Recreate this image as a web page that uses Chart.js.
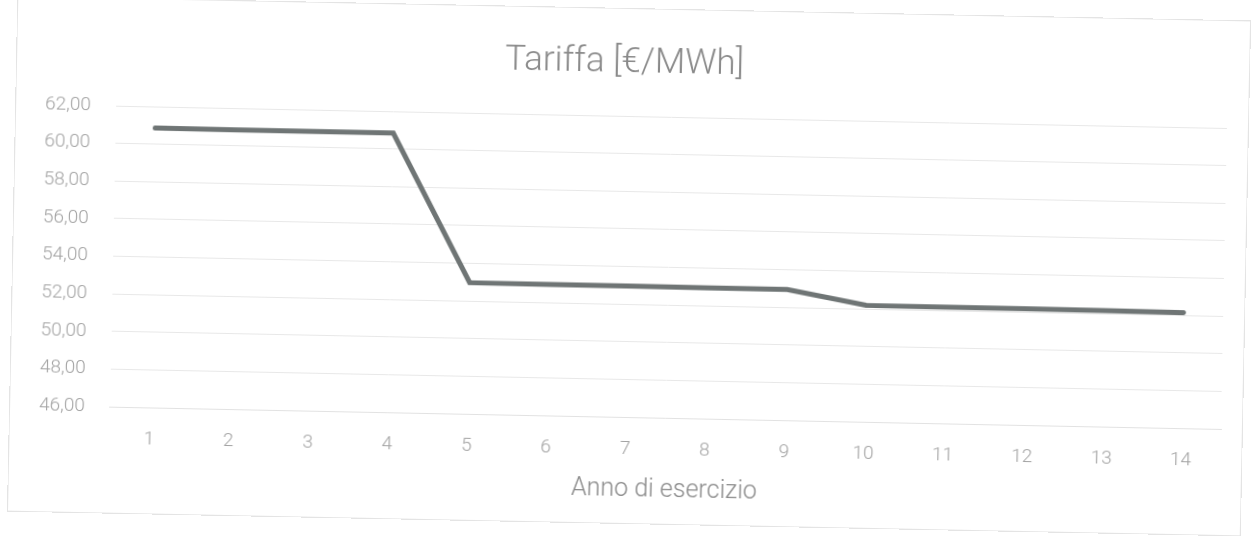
<!DOCTYPE html>
<html>
<head>
<meta charset="utf-8">
<script src="https://cdn.jsdelivr.net/npm/chart.js@4/dist/chart.umd.min.js"></script>
<style>
  html, body { margin: 0; padding: 0; background: #fff; overflow: hidden; }
  #wrap {
    position: relative; width: 1254px; height: 536px;
    /* the scanned chart is slightly tilted */
    transform: rotate(1.15deg); transform-origin: 627px 268px;
  }
  #frame { position: absolute; left: 12px; top: 8px; width: 1232px; height: 514px; border: 1px solid #e4e4e4; }
</style>
</head>
<body>
<div id="wrap">
  <div id="frame"></div>
  <canvas id="myChart" width="1254" height="536"></canvas>
</div>
<script>
// anno di esercizio
const anni = ['1', '2', '3', '4', '5', '6', '7', '8', '9', '10', '11', '12', '13', '14'];
// tariffa €/MWh
const tariffa = [60.86, 60.85, 60.85, 60.84, 52.98, 52.97, 52.97, 52.96, 52.96, 52.20, 52.19, 52.18, 52.17, 52.15];
const yMin = 46;
const yMax = 62;
const yStep = 2;

const tickColor = '#a3a3a3';
const font = 'Roboto, "Open Sans", sans-serif';

const data = {
    labels: anni,
    datasets: [{
        label: 'Tariffa',
        data: tariffa,
        borderColor: '#6f7575',
        borderWidth: 5,
        pointRadius: 0,
        fill: false,
        tension: 0,
        borderCapStyle: 'round',
        borderJoinStyle: 'miter',
    }],
};

const config = {
    type: 'line',
    data: data,
    options: {
        responsive: false,
        animation: false,
        layout: { padding: { top: 30, left: 17, right: 30, bottom: 23 } },
        plugins: {
            legend: { display: false },
            tooltip: { enabled: false },
            title: {
                display: true,
                text: 'Tariffa [€/MWh]',
                color: '#8a8a8a',
                font: { family: font, size: 35, weight: 300 },
                padding: { top: 12, bottom: 32 },
            },
        },
        scales: {
            x: {
                offset: true,
                grid: { display: false, drawTicks: false },
                border: { display: true, color: '#e2e2e2' },
                ticks: { color: tickColor, font: { family: font, size: 19, weight: 300 }, padding: 21, maxRotation: 0 },
                title: {
                    display: true,
                    text: 'Anno di esercizio',
                    color: '#8a8a8a',
                    font: { family: font, size: 25, weight: 300 },
                    padding: { top: -7, bottom: 8 },
                },
            },
            y: {
                min: yMin,
                max: yMax,
                grid: { color: '#e8e8e8', lineWidth: 1, drawTicks: false },
                border: { display: false },
                ticks: {
                    stepSize: yStep,
                    color: tickColor,
                    font: { family: font, size: 19, weight: 300 },
                    padding: 25,
                    callback: (v) => v.toFixed(2).replace('.', ','),
                },
            },
        },
    },
};

document.addEventListener('DOMContentLoaded', () => {
    const ctx = document.getElementById('myChart').getContext('2d');
    new Chart(ctx, config);
});
</script>
</body>
</html>
